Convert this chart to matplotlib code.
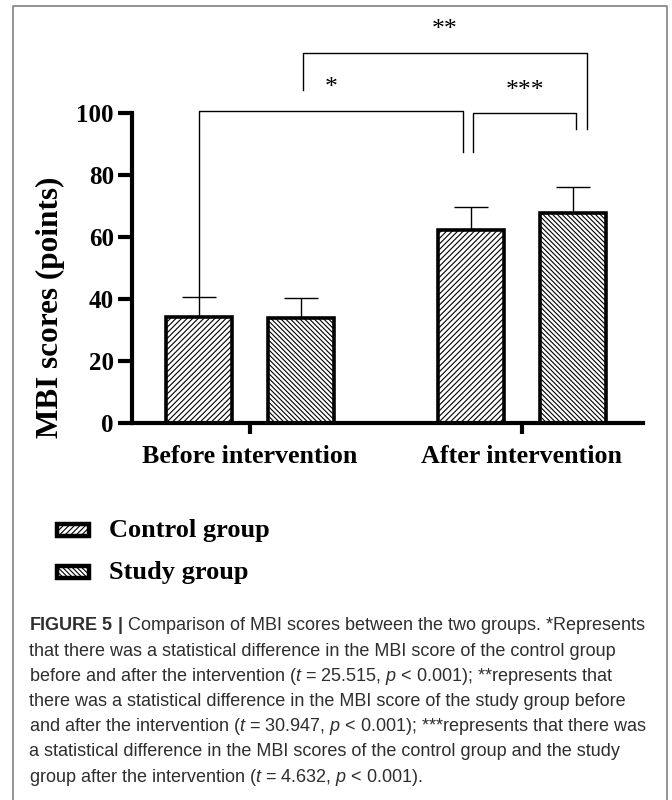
import numpy as np
import matplotlib.pyplot as plt
from matplotlib.lines import Line2D
from matplotlib.patches import Rectangle

plt.rcParams['font.family'] = ['Liberation Serif', 'DejaVu Serif']
plt.rcParams['mathtext.fontset'] = 'custom'
plt.rcParams['mathtext.it'] = 'Liberation Sans:italic'
plt.rcParams['mathtext.rm'] = 'Liberation Sans'
plt.rcParams['mathtext.bf'] = 'Liberation Sans:bold'
plt.rcParams['hatch.linewidth'] = 0.8

# Datos
periods = ['Before intervention', 'After intervention']
groups = ['Control group', 'Study group']
control_mean = [34.3, 62.2]
control_sd = [6.2, 7.4]
study_mean = [33.9, 67.8]
study_sd = [6.3, 8.2]

caption = [
    r'$\mathbf{FIGURE\ 5\ |}$ Comparison of MBI scores between the two groups. *Represents',
    'that there was a statistical difference in the MBI score of the control group',
    r'before and after the intervention ($\mathit{t}$ = 25.515, $\mathit{p}$ < 0.001); **represents that',
    'there was a statistical difference in the MBI score of the study group before',
    r'and after the intervention ($\mathit{t}$ = 30.947, $\mathit{p}$ < 0.001); ***represents that there was',
    'a statistical difference in the MBI scores of the control group and the study',
    r'group after the intervention ($\mathit{t}$ = 4.632, $\mathit{p}$ < 0.001).',
]

fig = plt.figure(figsize=(6.72, 8), dpi=100)
ax = fig.add_axes([0.1964, 0.47125, 0.7604, 0.3875])

x = np.arange(len(periods))
off = 0.1875
w = 0.243
hatch_c = '//////'
hatch_s = '\\' * 7

ax.bar(x - off, control_mean, w, color='white', edgecolor='black', linewidth=2.6, hatch=hatch_c, zorder=2)
ax.bar(x + off, study_mean, w, color='white', edgecolor='black', linewidth=2.6, hatch=hatch_s, zorder=2)
ax.errorbar(x - off, control_mean, yerr=[np.zeros(2), control_sd], fmt='none', ecolor='black',
            elinewidth=1.0, capsize=12, capthick=1.0, zorder=1)
ax.errorbar(x + off, study_mean, yerr=[np.zeros(2), study_sd], fmt='none', ecolor='black',
            elinewidth=1.0, capsize=12, capthick=1.0, zorder=1)

# Posiciones de las barras para los corchetes
pos = {'control_before': (x[0] - off, control_mean[0] + control_sd[0]),
       'study_before': (x[0] + off, study_mean[0] + study_sd[0]),
       'control_after': (x[1] - off, control_mean[1] + control_sd[1]),
       'study_after': (x[1] + off, study_mean[1] + study_sd[1])}

# corchete *
x1 = pos['control_before'][0]
x2 = pos['control_after'][0] - 0.03
ax.plot([x1, x1, x2, x2], [pos['control_before'][1], 100.6, 100.6, 87.4], color='black', lw=1.0, clip_on=False)
ax.text((x1 + x2) / 2, 108.0, '*', ha='center', va='center', fontsize=18.5)
# corchete ***
x1 = pos['control_after'][0] + 0.008
x2 = pos['study_after'][0] + 0.012
ax.plot([x1, x1, x2, x2], [87.4, 100.0, 100.0, 94.8], color='black', lw=1.0, clip_on=False)
ax.text((x1 + x2) / 2, 107.1, '***', ha='center', va='center', fontsize=18.5)
# corchete **
x1 = pos['study_before'][0] + 0.008
x2 = pos['study_after'][0] + 0.05
ax.plot([x1, x1, x2, x2], [107.4, 119.4, 119.4, 94.8], color='black', lw=1.0, clip_on=False)
ax.text((x1 + x2) / 2, 126.8, '**', ha='center', va='center', fontsize=18.5)

ax.set_xlim(-0.434, 1.445)
ax.set_ylim(0, 100)
ax.set_yticks([0, 20, 40, 60, 80, 100])
ax.set_xticks(x)
ax.set_xticklabels(periods, fontsize=18.7, fontweight='bold')
for lab in ax.get_yticklabels():
    lab.set_fontsize(18)
    lab.set_fontweight('bold')
ax.tick_params(axis='y', length=10, width=3, pad=3)
ax.tick_params(axis='x', length=8, width=3, pad=8)
for s in ['top', 'right']:
    ax.spines[s].set_visible(False)
for s in ['left', 'bottom']:
    ax.spines[s].set_linewidth(3)

fig.text(0.0744, 0.616, 'MBI scores (points)', rotation=90, ha='center', va='center',
         fontsize=22.5, fontweight='bold')

# Leyenda
legend_y = [530, 572]
for gname, yy, h in zip(groups, legend_y, [hatch_c, hatch_s]):
    fig.add_artist(Rectangle((57 / 672, 1 - (yy + 6) / 800), 32 / 672, 12 / 800, transform=fig.transFigure,
                             facecolor='white', edgecolor='black', linewidth=3.2, hatch=h))
    fig.text(109 / 672, 1 - yy / 800, gname, ha='left', va='center', fontsize=19, fontweight='bold')

# Pie de figura
for i, line in enumerate(caption):
    fig.text(29 / 672, 1 - (626 + i * 25.2) / 800, line, ha='left', va='center', fontsize=13,
             family='Liberation Sans', color='#2e2e2e')

# Marco
frame_color = '#8a8a8a'
fig.add_artist(Line2D([13 / 672, 13 / 672, 667 / 672, 667 / 672], [0, 1 - 6 / 800, 1 - 6 / 800, 0],
                      transform=fig.transFigure, color=frame_color, lw=1.3))

plt.savefig('out.png', dpi=100)
